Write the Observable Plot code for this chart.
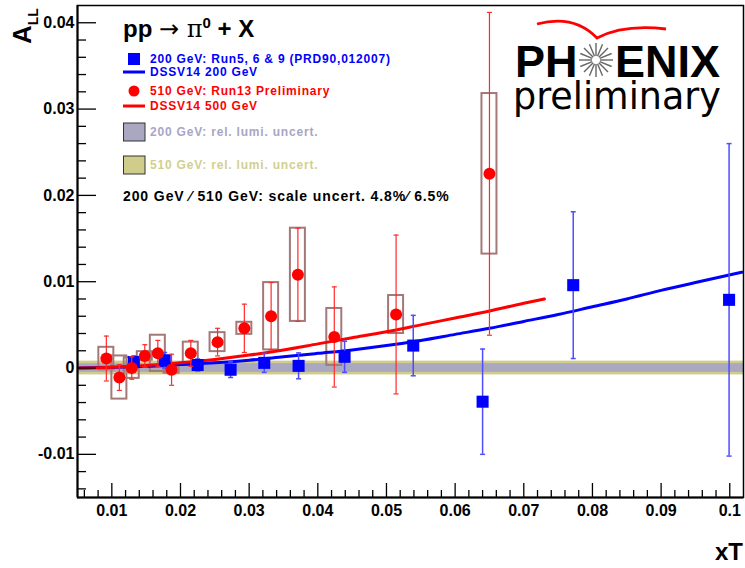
<!DOCTYPE html>
<html><head><meta charset="utf-8">
<script src="https://cdn.jsdelivr.net/npm/d3@7"></script>
<script src="https://cdn.jsdelivr.net/npm/@observablehq/plot@0.6"></script>
<style>body{margin:0;background:#fff;} svg{display:block}</style>
</head><body><div id="chart"></div>
<script>
// ---- data: 200 GeV (Run5, 6 & 9) ----
const xT200   = [0.0132, 0.0177, 0.0225, 0.0273, 0.0322, 0.0372, 0.0439, 0.0539, 0.0640, 0.0772, 0.0999];
const aLL200  = [0.0007, 0.0009, 0.00035, -0.0002, 0.0006, 0.00025, 0.0013, 0.0026, -0.0039, 0.0096, 0.0079];
const err200  = [0.0007, 0.0009, 0.0007, 0.0009, 0.0011, 0.0015, 0.0018, 0.0035, 0.0061, 0.0085, 0.0181];
// ---- data: 510 GeV (Run13 preliminary) ----
const xT510   = [0.0092, 0.0111, 0.0129, 0.0148, 0.0167, 0.0187, 0.0215, 0.0254, 0.0293, 0.0332, 0.0371, 0.0424, 0.0514, 0.0650];
const aLL510  = [0.0011, -0.0011, 0.0000, 0.0014, 0.0017, -0.0002, 0.0017, 0.0030, 0.0046, 0.0060, 0.0108, 0.0036, 0.0062, 0.0225];
const stat510 = [0.0026, 0.0015, 0.0013, 0.0013, 0.0015, 0.0018, 0.0015, 0.0016, 0.0028, 0.0039, 0.0054, 0.0058, 0.0092, 0.0187];
const sys510  = [0.0013, 0.0025, 0.0012, 0.0005, 0.0021, 0.0004, 0.0013, 0.0011, 0.0007, 0.0039, 0.0054, 0.0033, 0.0022, 0.0093];
// ---- DSSV14 theory curves ----
const dssv200X = [0.0052, 0.010, 0.015, 0.020, 0.025, 0.030, 0.035, 0.040, 0.045, 0.050, 0.055, 0.060, 0.065, 0.070, 0.075, 0.080, 0.085, 0.090, 0.095, 0.1018];
const dssv200Y = [0.0000, 0.0001, 0.0002, 0.0004, 0.0006, 0.0009, 0.0013, 0.0017, 0.0021, 0.0026, 0.0032, 0.0039, 0.0046, 0.0054, 0.0062, 0.0071, 0.0080, 0.0090, 0.0099, 0.0111];
const dssv500X = [0.0052, 0.010, 0.015, 0.020, 0.025, 0.030, 0.035, 0.040, 0.045, 0.050, 0.055, 0.060, 0.065, 0.070, 0.073];
const dssv500Y = [0.0000, 0.0001, 0.0003, 0.0006, 0.0010, 0.0015, 0.0021, 0.0028, 0.0035, 0.0042, 0.0050, 0.0058, 0.0066, 0.0075, 0.0080];
// ---- relative luminosity uncertainty bands ----
const lumiLabels = ["510 GeV: rel. lumi. uncert.", "200 GeV: rel. lumi. uncert."];
const lumiUnc    = [0.0008, 0.0005];
// ---- axis ticks ----
const xTicks = [0.01, 0.02, 0.03, 0.04, 0.05, 0.06, 0.07, 0.08, 0.09, 0.1];
const yTicks = [-0.01, 0, 0.01, 0.02, 0.03, 0.04];

const W = 745, H = 568, mL = 77, mR = 2, mT = 5, mB = 71;
const xDom = [0.005, 0.102], yDom = [-0.015, 0.042];
const dxPx = (xDom[1] - xDom[0]) / (W - mL - mR);
const dyPx = (yDom[1] - yDom[0]) / (H - mT - mB);
const xMinor = d3.range(3, 51).filter(k => k % 5 !== 0).map(k => k * 0.002);
const yMinor = d3.range(-7, 21).filter(k => k % 5 !== 0).map(k => k * 0.002);

const blue = xT200.map((x, i) => ({x, y: aLL200[i], e: err200[i]}));
const red = xT510.map((x, i) => ({x, y: aLL510[i], e: stat510[i], s: sys510[i]}));
const th200 = dssv200X.map((x, i) => ({x, y: dssv200Y[i]}));
const th500 = dssv500X.map((x, i) => ({x, y: dssv500Y[i]}));
const bands = lumiUnc.map((e, i) => ({e, label: lumiLabels[i]}));

const GREY = "#aaa7c0", KHAKI = "#d0cd8c", SYS = "#a57878";
const BLUE = "#0000ff", RED = "#ff0000", BLUEBAR = "#4d4dff", REDBAR = "#ff2a2a";
const capSym = {draw(ctx) { ctx.moveTo(-2.5, 0); ctx.lineTo(2.5, 0); }};
const fmt = d => String(+d.toFixed(3));
const FONT = "'Liberation Sans', Arial, Helvetica, sans-serif";

const chart = Plot.plot({
  width: W, height: H, marginLeft: mL, marginRight: mR, marginTop: mT, marginBottom: mB,
  x: {domain: xDom, label: null},
  y: {domain: yDom, label: null},
  style: {background: "white", fontFamily: FONT, color: "black"},
  marks: [
    Plot.rect(bands, {x1: () => xDom[0], x2: () => xDom[1], y1: d => -d.e, y2: d => d.e,
      fill: (d, i) => i === 0 ? KHAKI : GREY}),
    Plot.rect(red, {x1: d => d.x, x2: d => d.x, y1: d => d.y - d.s, y2: d => d.y + d.s,
      insetLeft: -7.5, insetRight: -7.5, fill: "none", stroke: SYS, strokeWidth: 2}),
    Plot.line(th200, {x: "x", y: "y", stroke: BLUE, strokeWidth: 3, curve: "monotone-x"}),
    Plot.line(th500, {x: "x", y: "y", stroke: RED, strokeWidth: 3, curve: "monotone-x"}),
    Plot.ruleX(blue, {x: "x", y1: d => d.y - d.e, y2: d => d.y + d.e, stroke: BLUEBAR, strokeWidth: 1.5}),
    Plot.dot(blue, {x: "x", y: d => d.y + d.e, symbol: capSym, fill: "none", stroke: BLUEBAR, strokeWidth: 1.5}),
    Plot.dot(blue, {x: "x", y: d => d.y - d.e, symbol: capSym, fill: "none", stroke: BLUEBAR, strokeWidth: 1.5}),
    Plot.dot(blue, {x: "x", y: "y", symbol: "square", r: 6.8, fill: BLUE, stroke: "none"}),
    Plot.ruleX(red, {x: "x", y1: d => d.y - d.e, y2: d => d.y + d.e, stroke: REDBAR, strokeWidth: 1.2}),
    Plot.dot(red, {x: "x", y: d => d.y + d.e, symbol: capSym, fill: "none", stroke: REDBAR, strokeWidth: 1.2}),
    Plot.dot(red, {x: "x", y: d => d.y - d.e, symbol: capSym, fill: "none", stroke: REDBAR, strokeWidth: 1.2}),
    Plot.dot(red, {x: "x", y: "y", r: 6, fill: RED, stroke: "none"}),
    // axis ticks (inward)
    Plot.ruleY(yTicks, {y: d => d, x1: () => xDom[0], x2: () => xDom[0] + 19 * dxPx, stroke: "black", strokeWidth: 1.3}),
    Plot.ruleY(yMinor, {y: d => d, x1: () => xDom[0], x2: () => xDom[0] + 9 * dxPx, stroke: "black", strokeWidth: 1.3}),
    Plot.ruleX(xTicks, {x: d => d, y1: () => yDom[0], y2: () => yDom[0] + 14 * dyPx, stroke: "black", strokeWidth: 1.3}),
    Plot.ruleX(xMinor, {x: d => d, y1: () => yDom[0], y2: () => yDom[0] + 7 * dyPx, stroke: "black", strokeWidth: 1.3}),
    Plot.axisY(yTicks, {tickSize: 0, tickPadding: 3, tickFormat: fmt, label: null, fontSize: 16, fontWeight: "bold"}),
    Plot.axisX(xTicks, {tickSize: 0, tickPadding: 7, tickFormat: fmt, label: null, fontSize: 16, fontWeight: "bold"}),
    Plot.frame({stroke: "black", strokeWidth: 1.5}),
    Plot.ruleX([xDom[0]], {stroke: "black", strokeWidth: 2}),
    Plot.ruleY([yDom[0]], {stroke: "black", strokeWidth: 2})
  ]
});
document.getElementById("chart").appendChild(chart);

// ---- annotations: axis titles, legend, logo ----
const svg = d3.select(chart);
const g = svg.append("g").attr("font-family", FONT).attr("font-weight", "bold").attr("text-anchor", "start");

const at = g.append("text").attr("transform", "translate(31,44) rotate(-90)").attr("font-size", 26);
at.append("tspan").text("A");
at.append("tspan").attr("font-size", 14).attr("dy", 7).text("LL");

g.append("text").attr("x", 743).attr("y", 560).attr("text-anchor", "end").attr("font-size", 24).text("xT");

const title = g.append("text").attr("x", 123).attr("y", 37).attr("font-size", 24);
title.append("tspan").text("pp ");
title.append("tspan").attr("font-weight", "normal").attr("font-family", "DejaVu Sans").text("→ ");
title.append("tspan").attr("font-weight", "normal").attr("font-family", "DejaVu Serif").text("π");
title.append("tspan").attr("font-size", 15).attr("dy", -9).text("0");
title.append("tspan").attr("dy", 9).text(" + X");

const legend = [
  {kind: "square", color: BLUE, tcolor: BLUE, text: "200 GeV: Run5, 6 & 9 (PRD90,012007)", y: 59},
  {kind: "line", color: BLUE, tcolor: BLUE, text: "DSSV14 200 GeV", y: 72},
  {kind: "circle", color: RED, tcolor: RED, text: "510 GeV: Run13 Preliminary", y: 91},
  {kind: "line", color: RED, tcolor: RED, text: "DSSV14 500 GeV", y: 106},
  {kind: "box", color: GREY, tcolor: "#a9a6c3", text: bands[1].label, y: 132},
  {kind: "box", color: KHAKI, tcolor: "#d2cf8e", text: bands[0].label, y: 165}
];
for (const e of legend) {
  if (e.kind === "square") g.append("rect").attr("x", 128).attr("y", e.y - 6).attr("width", 12).attr("height", 12).attr("fill", e.color);
  if (e.kind === "circle") g.append("circle").attr("cx", 134).attr("cy", e.y).attr("r", 5.5).attr("fill", e.color);
  if (e.kind === "line") g.append("line").attr("x1", 123).attr("x2", 145).attr("y1", e.y).attr("y2", e.y).attr("stroke", e.color).attr("stroke-width", 3);
  if (e.kind === "box") g.append("rect").attr("x", 123.5).attr("y", e.y - 9).attr("width", 21.5).attr("height", 18).attr("fill", e.color).attr("stroke", "#333").attr("stroke-width", 1);
  g.append("text").attr("x", 150).attr("y", e.y + 4.3).attr("font-size", 12).attr("letter-spacing", 0.8).attr("fill", e.tcolor).text(e.text);
}
g.append("text").attr("x", 123).attr("y", 200.5).attr("font-size", 14).attr("letter-spacing", 0.9).attr("fill", "black")
  .text("200 GeV \u2044 510 GeV: scale uncert. 4.8%\u2044 6.5%");

// PHENIX preliminary logo
const logo = svg.append("g").attr("text-anchor", "start");
logo.append("path").attr("d", "M537,24 Q574,14 597,38 Q624,24 666,29").attr("fill", "none").attr("stroke", "#ff0000").attr("stroke-width", 2.8);
logo.append("text").attr("x", 515).attr("y", 77).attr("font-family", FONT).attr("font-weight", "bold").attr("font-size", 45).text("PH");
logo.append("text").attr("x", 720).attr("y", 77).attr("text-anchor", "end").attr("font-family", FONT).attr("font-weight", "bold").attr("font-size", 45).text("ENIX");
const cx = 596, cy = 60;
for (let k = 0; k < 16; k++) {
  const a = k * Math.PI / 8;
  logo.append("line").attr("x1", cx + 4 * Math.cos(a)).attr("y1", cy + 4 * Math.sin(a))
    .attr("x2", cx + 17 * Math.cos(a)).attr("y2", cy + 17 * Math.sin(a)).attr("stroke", "#666").attr("stroke-width", 1.4);
}
logo.append("text").attr("x", 513).attr("y", 109).attr("font-family", "'DejaVu Sans', sans-serif").attr("font-size", 36.5).text("preliminary");
</script>
</body></html>
